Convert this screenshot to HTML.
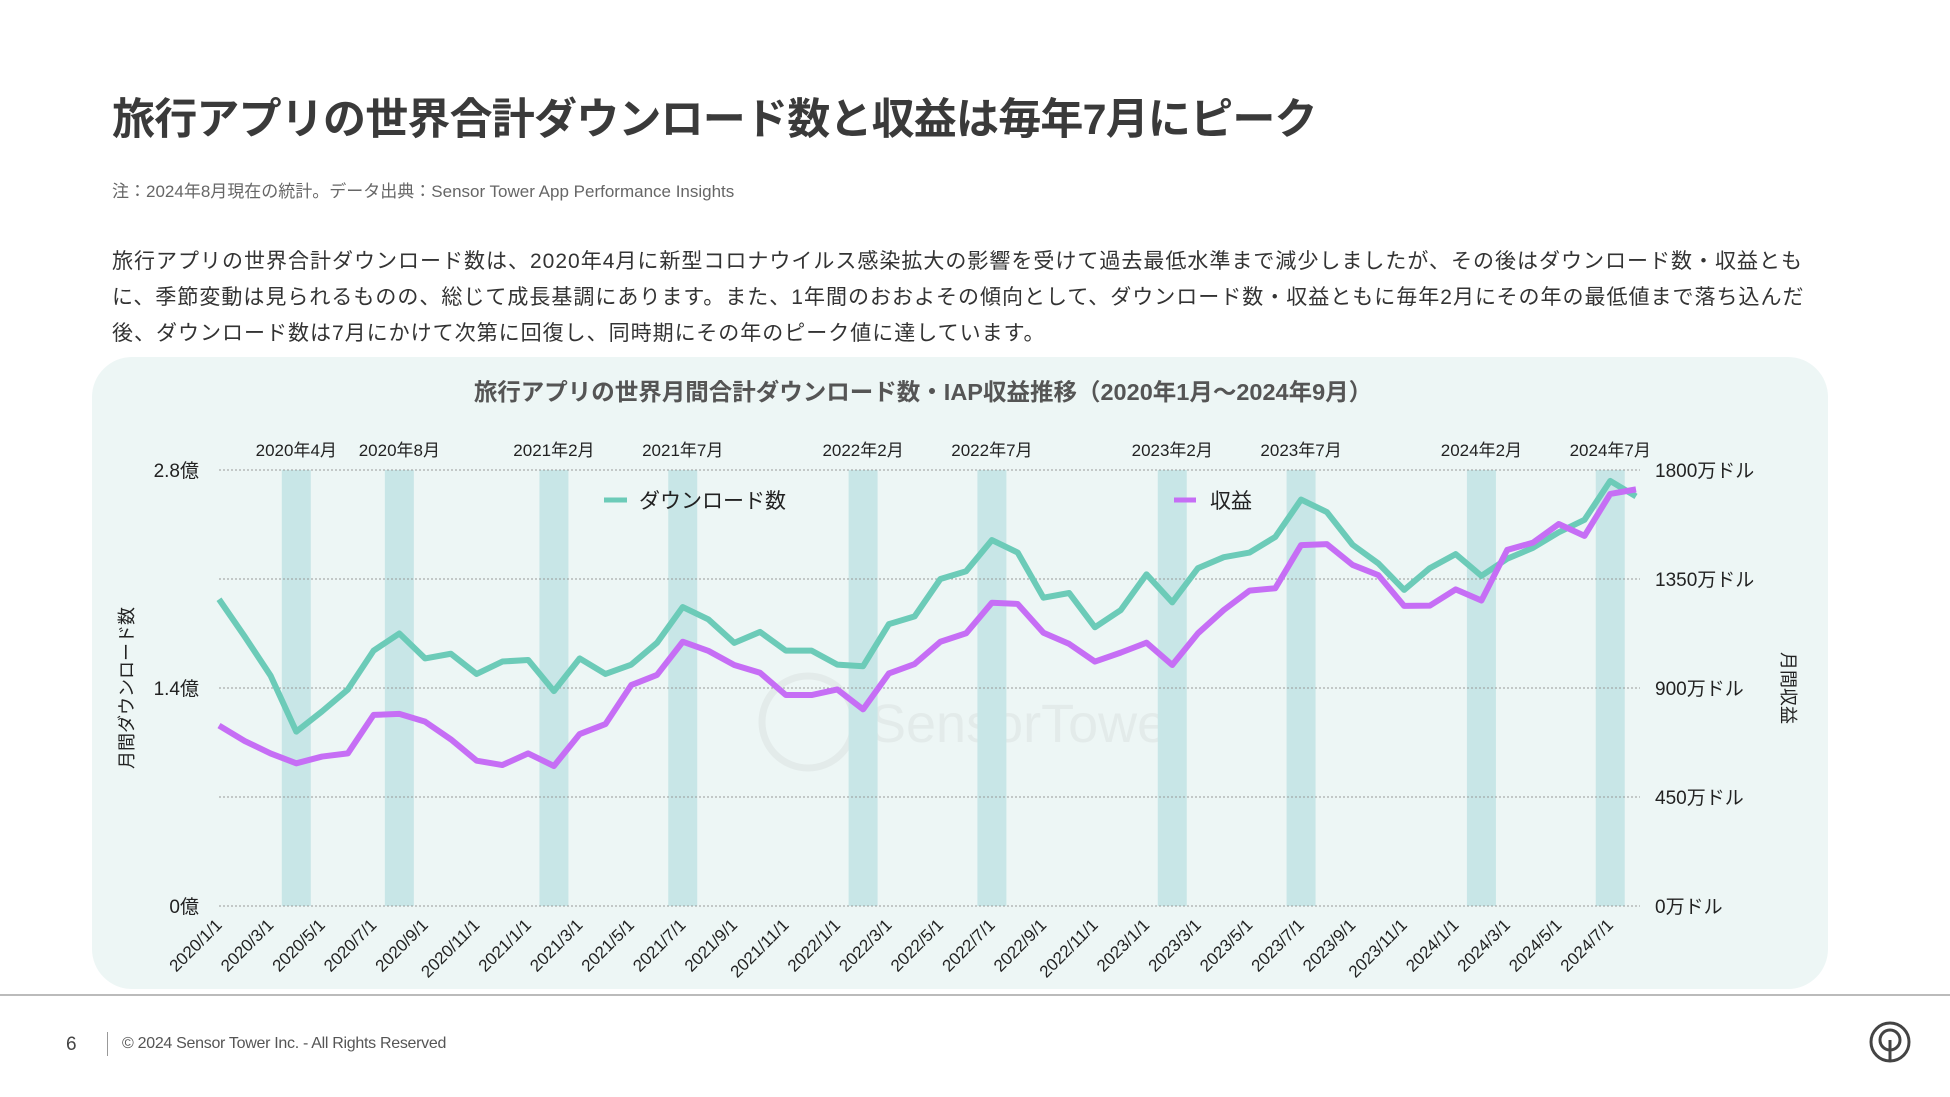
<!DOCTYPE html>
<html><head><meta charset="utf-8">
<style>
html,body{margin:0;padding:0;background:#fff;}
body{width:1950px;height:1097px;position:relative;overflow:hidden;font-family:"Liberation Sans","Noto Sans CJK JP",sans-serif;color:#333;}
.abs{position:absolute;}
</style></head>
<body>
<div class="abs" style="left:112px;top:85px;font-size:43px;font-weight:bold;color:#3a3a3a;white-space:nowrap;letter-spacing:-0.8px;">旅行アプリの世界合計ダウンロード数と収益は毎年7月にピーク</div>
<div class="abs" style="left:112px;top:177px;font-size:17px;color:#666;white-space:nowrap;">注：2024年8月現在の統計。データ出典：Sensor Tower App Performance Insights</div>
<div class="abs" style="left:112px;top:244px;font-size:21px;line-height:36px;color:#333;white-space:nowrap;letter-spacing:1px;">旅行アプリの世界合計ダウンロード数は、2020年4月に新型コロナウイルス感染拡大の影響を受けて過去最低水準まで減少しましたが、その後はダウンロード数・収益とも<br>に、季節変動は見られるものの、総じて成長基調にあります。また、1年間のおおよその傾向として、ダウンロード数・収益ともに毎年2月にその年の最低値まで落ち込んだ<br>後、ダウンロード数は7月にかけて次第に回復し、同時期にその年のピーク値に達しています。</div>
<div class="abs" style="left:92px;top:357px;width:1736px;height:632px;background:#edf6f5;border-radius:40px;"></div>
<svg class="abs" style="left:0;top:0" width="1950" height="1097" id="chart"></svg>
<div class="abs" style="left:0;top:994px;width:1950px;height:2px;background:#bbb;"></div>
<div class="abs" style="left:66px;top:1034px;font-size:19px;color:#444;">6</div>
<div class="abs" style="left:107px;top:1032px;width:1px;height:24px;background:#999;"></div>
<div class="abs" style="left:122px;top:1035px;font-size:16px;color:#555;letter-spacing:-0.3px;">© 2024 Sensor Tower Inc. - All Rights Reserved</div>
<svg class="abs" style="left:1866px;top:1018px" width="48" height="48">
<circle cx="24" cy="24" r="19" fill="none" stroke="#444" stroke-width="3"/>
<circle cx="24" cy="22" r="10" fill="none" stroke="#444" stroke-width="3"/>
<line x1="24" y1="22" x2="24" y2="42" stroke="#444" stroke-width="3"/>
</svg>
<script>
const months = [];
for (let y=2020;y<=2024;y++) for (let m=1;m<=12;m++) if (!(y===2024&&m>8)) months.push(y+'/'+m+'/1');
const downloads = [1.97,1.73,1.48,1.12,1.25,1.39,1.64,1.75,1.59,1.62,1.49,1.57,1.58,1.38,1.59,1.49,1.55,1.69,1.92,1.84,1.69,1.76,1.64,1.64,1.55,1.54,1.81,1.86,2.10,2.15,2.35,2.27,1.98,2.01,1.79,1.90,2.13,1.95,2.17,2.24,2.27,2.37,2.61,2.53,2.32,2.20,2.03,2.17,2.26,2.12,2.23,2.30,2.40,2.48,2.73,2.63];
const revenue = [745,681,630,589,617,630,789,793,761,688,600,582,630,578,710,751,912,954,1091,1053,995,963,871,871,894,812,960,999,1091,1126,1252,1247,1128,1082,1009,1046,1087,995,1126,1222,1302,1312,1490,1494,1408,1366,1239,1240,1307,1261,1470,1500,1577,1528,1701,1720];
const bandIdx = [3,7,13,18,25,30,37,42,49,54];
const bandLabels = ['2020年4月','2020年8月','2021年2月','2021年7月','2022年2月','2022年7月','2023年2月','2023年7月','2024年2月','2024年7月'];
const leftTicks = [0,0.7,1.4,2.1,2.8];
const leftTickLabels = ['0億','','1.4億','','2.8億'];
const rightTicks = [0,450,900,1350,1800];
const rightTickLabels = ['0万ドル','450万ドル','900万ドル','1350万ドル','1800万ドル'];

const svg = document.getElementById('chart');
const NS='http://www.w3.org/2000/svg';
const X0=219, X1=1636, Y0=906, Y1=470;
const x = i => X0 + (X1-X0)*i/(months.length-1);
const yL = v => Y0 - (Y0-Y1)*v/2.8;
const yR = v => Y0 - (Y0-Y1)*v/1800;
function mk(tag, attrs, text){const e=document.createElementNS(NS,tag);for(const k in attrs)e.setAttribute(k,attrs[k]);if(text!==undefined)e.textContent=text;svg.appendChild(e);return e;}

const wm = mk('text',{x:870,y:742,'font-size':54,fill:'#e3ebea','font-family':'"Liberation Sans",sans-serif'},'SensorTower');


const wc = mk('circle',{cx:808,cy:722,r:46,fill:'none',stroke:'#e3ebea','stroke-width':7});



bandIdx.forEach((bi,k)=>{
  const r = mk('rect',{x:x(bi)-14.5,y:Y1,width:29,height:Y0-Y1,fill:'#c8e6e7'});
  
  
  const t = mk('text',{x:x(bi),y:456,'text-anchor':'middle','font-size':17,fill:'#222'},bandLabels[k]);
  
  
});
leftTicks.forEach((v,k)=>{
  const g = mk('line',{x1:X0,x2:1640,y1:yL(v),y2:yL(v),stroke:'#999','stroke-width':1,'stroke-dasharray':'2,2'});
  
  
  if (leftTickLabels[k]) {
    const t = mk('text',{x:199,y:yL(v)+7,'text-anchor':'end','font-size':19,fill:'#222'},leftTickLabels[k]);
    
    
  }
});
rightTicks.forEach((v,k)=>{
  const t = mk('text',{x:1655,y:yR(v)+7,'font-size':19,fill:'#222'},rightTickLabels[k]);
  
  
});
months.forEach((m,i)=>{
  if (i%2) return;
  const t = mk('text',{x:x(i)+4,y:926,'text-anchor':'end','font-size':17,fill:'#222',transform:`rotate(-45 ${x(i)+4} 926)`},m);
  
  
});
const dl = mk('polyline',{points:downloads.map((v,i)=>x(i)+','+yL(v)).join(' '),fill:'none',stroke:'#6ccbb8','stroke-width':6,'stroke-linejoin':'round'});


const rl = mk('polyline',{points:revenue.map((v,i)=>x(i)+','+yR(v)).join(' '),fill:'none',stroke:'#c66ef5','stroke-width':6,'stroke-linejoin':'round'});


const l1 = mk('line',{x1:604,x2:627,y1:500,y2:500,stroke:'#6ccbb8','stroke-width':5});


const lt1 = mk('text',{x:639,y:508,'font-size':21,fill:'#222'},'ダウンロード数');


const l2 = mk('line',{x1:1174,x2:1196,y1:500,y2:500,stroke:'#c66ef5','stroke-width':5});


const lt2 = mk('text',{x:1210,y:508,'font-size':21,fill:'#222'},'収益');


const ct = mk('text',{x:923,y:400,'text-anchor':'middle','font-size':23.5,'font-weight':'bold',fill:'#555'},'旅行アプリの世界月間合計ダウンロード数・IAP収益推移（2020年1月〜2024年9月）');


const yt = mk('text',{x:133,y:688,'text-anchor':'middle','font-size':18,fill:'#222',transform:'rotate(-90 133 688)'},'月間ダウンロード数');


const rt = mk('text',{x:1782,y:688,'text-anchor':'middle','font-size':18,fill:'#222',transform:'rotate(90 1782 688)'},'月間収益');


</script>
</body></html>
